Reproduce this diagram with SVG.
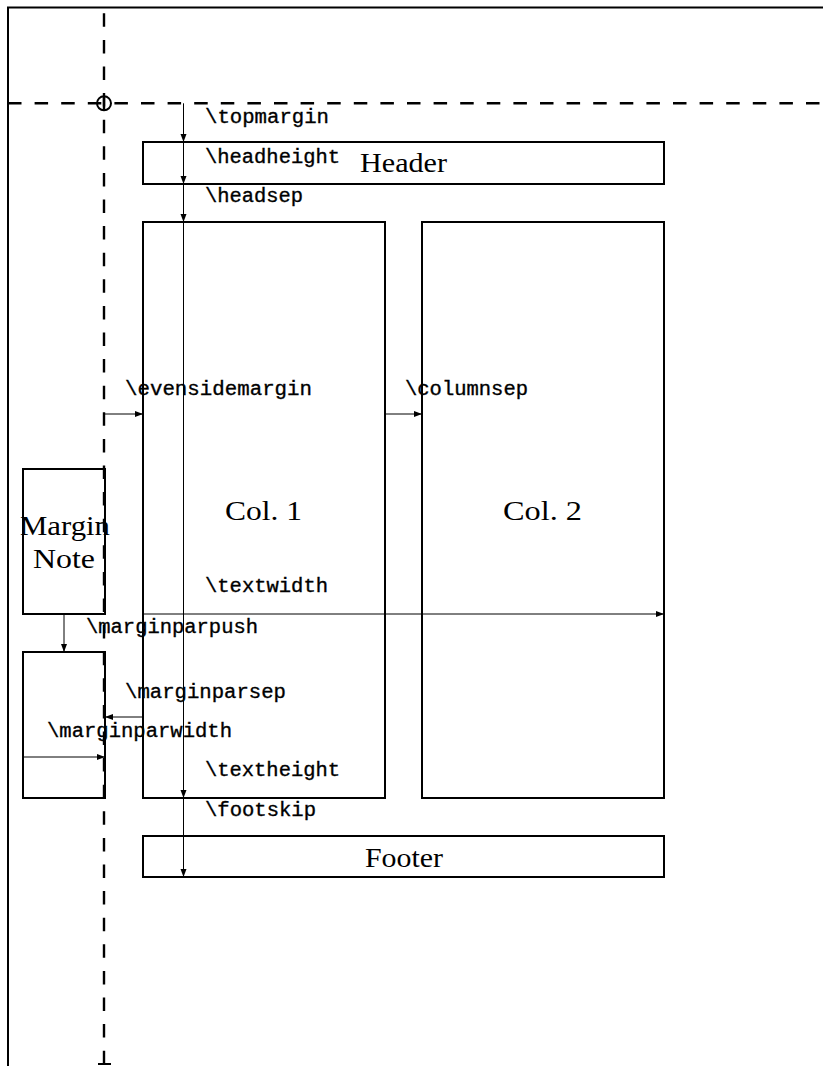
<svg xmlns="http://www.w3.org/2000/svg" width="823" height="1066" viewBox="0 0 823 1066">
<defs>
<marker id="ah" markerWidth="9" markerHeight="7" refX="8" refY="3" orient="auto" markerUnits="userSpaceOnUse">
<path d="M0,0 L8,3 L0,6 z" fill="#000"/>
</marker>
<style>
.box{fill:none;stroke:#000;stroke-width:2}
.dash{fill:none;stroke:#000;stroke-width:2.4;stroke-dasharray:13.5 13.1}
.arr{fill:none;stroke:#000;stroke-width:1;marker-end:url(#ah)}
.tt{font-family:"Liberation Mono","DejaVu Sans Mono",monospace;font-size:20.5px;fill:#000;stroke:#000;stroke-width:0.35}
.rm{font-family:"Liberation Serif","DejaVu Serif",serif;font-size:28px;fill:#000;text-anchor:middle}
</style>
</defs>
<rect width="823" height="1066" fill="#fff"/>
<g id="page">
<path d="M8,1066 L8,7.5 L823,7.5" class="box"/>
<line x1="104" y1="13.3" x2="104" y2="1064" class="dash"/>
<line x1="98" y1="1064" x2="111" y2="1064" stroke="#000" stroke-width="2"/>
<line x1="8" y1="103.3" x2="823" y2="103.3" class="dash"/>
<line x1="104" y1="96" x2="104" y2="111" stroke="#000" stroke-width="2.4"/>
<circle cx="104" cy="103.3" r="7" fill="none" stroke="#000" stroke-width="2"/>
</g>
<g id="header"><rect x="143" y="142" width="521" height="42" class="box"/><text x="403.5" y="172" class="rm" textLength="87" lengthAdjust="spacingAndGlyphs">Header</text></g>
<g id="col1"><rect x="143" y="222" width="242" height="576" class="box"/><text x="263.5" y="520" class="rm" textLength="77" lengthAdjust="spacingAndGlyphs">Col. 1</text></g>
<g id="col2"><rect x="422" y="222" width="242" height="576" class="box"/><text x="542.5" y="520" class="rm" textLength="79" lengthAdjust="spacingAndGlyphs">Col. 2</text></g>
<g id="footer"><rect x="143" y="836" width="521" height="41" class="box"/><text x="404" y="867" class="rm" textLength="78" lengthAdjust="spacingAndGlyphs">Footer</text></g>
<g id="marginnote"><rect x="23" y="469" width="82" height="145" class="box"/><text x="65" y="535" class="rm" textLength="90" lengthAdjust="spacingAndGlyphs">Margin</text><text x="64" y="568" class="rm" textLength="62" lengthAdjust="spacingAndGlyphs">Note</text></g>
<g id="marginnote2"><rect x="23" y="652" width="82" height="146" class="box"/></g>
<g id="connectors">
<line x1="183.5" y1="103.3" x2="183.5" y2="142" class="arr"/>
<line x1="183.5" y1="142" x2="183.5" y2="184" class="arr"/>
<line x1="183.5" y1="184" x2="183.5" y2="222" class="arr"/>
<line x1="183.5" y1="222" x2="183.5" y2="798" class="arr"/>
<line x1="183.5" y1="798" x2="183.5" y2="877" class="arr"/>
<line x1="104" y1="414" x2="143" y2="414" class="arr"/>
<line x1="385" y1="414" x2="422" y2="414" class="arr"/>
<line x1="143" y1="614" x2="664" y2="614" class="arr"/>
<line x1="64" y1="614" x2="64" y2="652" class="arr"/>
<line x1="143" y1="717" x2="105" y2="717" class="arr"/>
<line x1="23" y1="757" x2="105" y2="757" class="arr"/>
</g>
<g id="labels">
<text x="205" y="123" class="tt" textLength="124" lengthAdjust="spacingAndGlyphs">\topmargin</text>
<text x="205" y="163" class="tt" textLength="135" lengthAdjust="spacingAndGlyphs">\headheight</text>
<text x="205" y="202" class="tt" textLength="98" lengthAdjust="spacingAndGlyphs">\headsep</text>
<text x="125" y="395" class="tt" textLength="187" lengthAdjust="spacingAndGlyphs">\evensidemargin</text>
<text x="405" y="395" class="tt" textLength="123" lengthAdjust="spacingAndGlyphs">\columnsep</text>
<text x="205" y="592" class="tt" textLength="123" lengthAdjust="spacingAndGlyphs">\textwidth</text>
<text x="86" y="633" class="tt" textLength="172" lengthAdjust="spacingAndGlyphs">\marginparpush</text>
<text x="125" y="698" class="tt" textLength="161" lengthAdjust="spacingAndGlyphs">\marginparsep</text>
<text x="47" y="737" class="tt" textLength="185" lengthAdjust="spacingAndGlyphs">\marginparwidth</text>
<text x="205" y="776" class="tt" textLength="135" lengthAdjust="spacingAndGlyphs">\textheight</text>
<text x="205" y="816" class="tt" textLength="111" lengthAdjust="spacingAndGlyphs">\footskip</text>
</g>
</svg>
